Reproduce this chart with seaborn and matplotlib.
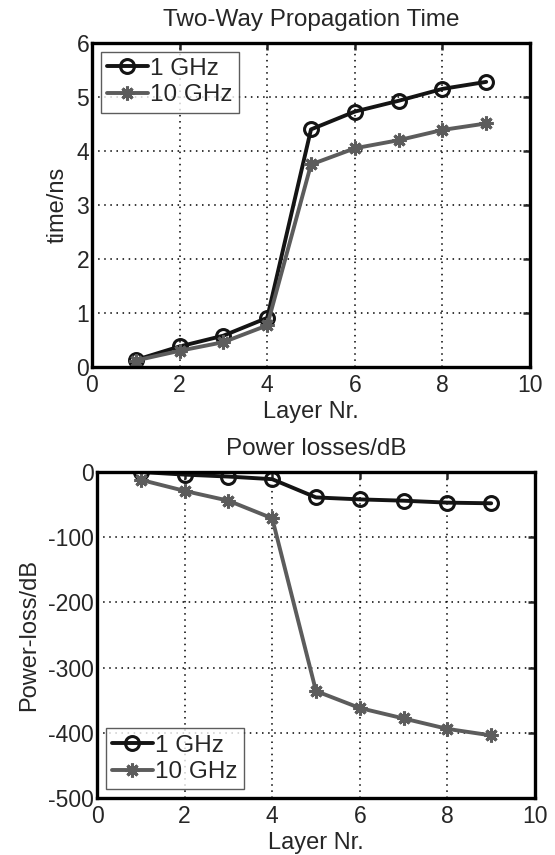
import numpy as np
import pandas as pd
import matplotlib
matplotlib.use('Agg')
import matplotlib.pyplot as plt
import seaborn as sns

# data
layers = [1, 2, 3, 4, 5, 6, 7, 8, 9]
time_1ghz = [0.13, 0.38, 0.58, 0.91, 4.40, 4.73, 4.93, 5.15, 5.28]
time_10ghz = [0.12, 0.30, 0.46, 0.77, 3.75, 4.05, 4.20, 4.39, 4.51]
loss_1ghz = [0, -4, -7, -11, -39, -42, -44, -47, -48]
loss_10ghz = [-12, -29, -44, -71, -336, -362, -378, -394, -404]
series_names = ['1 GHz', '10 GHz']

sns.set_style('white')
plt.rcParams['font.family'] = ['Liberation Sans', 'DejaVu Sans']
plt.rcParams['axes.unicode_minus'] = False

colors = {'1 GHz': '#141414', '10 GHz': '#5c5c5c'}
markers = {'1 GHz': 'o', '10 GHz': (8, 2, 0)}
msizes = {'1 GHz': 10, '10 GHz': 10}
FS = 16.5

fig = plt.figure(figsize=(5.55, 8.55), dpi=100)
ax1 = fig.add_axes([92/555, 1 - 367/855, 438/555, 324/855])
ax2 = fig.add_axes([97/555, 1 - 798/855, 438/555, 326/855])


def draw(ax, ys, ylim, yticks, ylabel, title, legend_loc):
    df = pd.DataFrame({'layer': layers * 2,
                       'value': ys[0] + ys[1],
                       'freq': [series_names[0]] * len(layers) + [series_names[1]] * len(layers)})
    for name in series_names:
        sub = df[df.freq == name]
        sns.lineplot(data=sub, x='layer', y='value', ax=ax, color=colors[name],
                     marker=markers[name], markersize=msizes[name], markeredgewidth=2.2,
                     markerfacecolor='none', markeredgecolor=colors[name],
                     linewidth=2.8, label=name)
    ax.set_xlim(0, 10)
    ax.set_ylim(*ylim)
    ax.set_xticks(range(0, 11, 2))
    ax.set_yticks(yticks)
    ax.grid(True, color='black', linestyle=(0, (1, 3)), linewidth=1.1)
    ax.tick_params(direction='in', top=True, right=True, labelsize=FS, length=5, width=1.8)
    ax.tick_params(axis='x', pad=5)
    ax.tick_params(axis='y', pad=2)
    for s in ax.spines.values():
        s.set_linewidth(2.4)
        s.set_color('black')
    ax.set_xlabel('Layer Nr.', fontsize=FS + 0.5, labelpad=3)
    ax.set_ylabel(ylabel, fontsize=FS + 0.5, labelpad=6)
    ax.set_title(title, fontsize=17.5, pad=12)
    leg = ax.legend(loc=legend_loc, fontsize=17.5, frameon=True, fancybox=False,
                    handlelength=1.7, handletextpad=0.1, borderpad=0.25,
                    labelspacing=0.2, borderaxespad=0.35)
    leg.get_frame().set_edgecolor('#333333')
    leg.get_frame().set_linewidth(1.0)


draw(ax1, [time_1ghz, time_10ghz], (0, 6), range(0, 7), 'time/ns',
     'Two-Way Propagation Time', 'upper left')
draw(ax2, [loss_1ghz, loss_10ghz], (-500, 0), range(-500, 1, 100), 'Power-loss/dB',
     'Power losses/dB', 'lower left')

fig.savefig('out.png', dpi=100)
